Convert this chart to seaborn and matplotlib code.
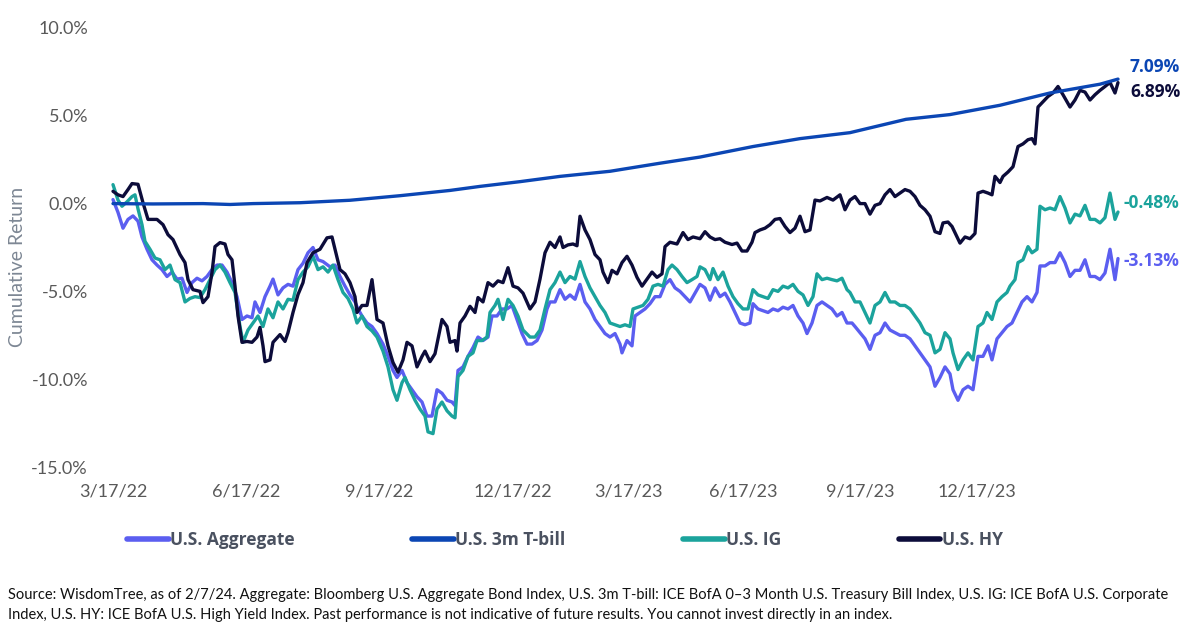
import matplotlib
matplotlib.use('Agg')
import matplotlib.pyplot as plt
import seaborn as sns
import pandas as pd

# (observation index, cumulative return %) ; index 0 = 3/17/22, 1005 = 2/7/24
agg_points = [
    (0, 0.23), (5, -0.5), (10, -1.4), (15, -0.9), (20, -0.7), (25, -1.0), (29, -1.9), (34, -2.6),
    (39, -3.2), (44, -3.5), (49, -3.76), (54, -4.15), (59, -3.9), (64, -4.3), (69, -4.25),
    (74, -5.06), (79, -4.5), (84, -4.25), (89, -4.4), (94, -4.15), (99, -3.76), (104, -3.5),
    (109, -3.5), (114, -3.9), (119, -4.5), (124, -5.3), (129, -6.6), (134, -6.4), (139, -6.5),
    (142, -5.6), (147, -6.2), (152, -5.3), (157, -4.7), (160, -4.3), (165, -5.2), (170, -4.8),
    (175, -4.6), (180, -4.7), (185, -3.76), (190, -3.4), (195, -2.8), (200, -2.5), (205, -3.2),
    (210, -3.3), (217, -3.6), (222, -3.5), (227, -4.15), (232, -4.7), (237, -5.2), (242, -5.6),
    (245, -6.0), (249, -6.4), (254, -6.8), (259, -7.0), (264, -7.4), (270, -8.0), (275, -8.7),
    (280, -9.5), (284, -9.9), (289, -9.5), (294, -10.2), (299, -10.6), (304, -11.0), (309, -11.3),
    (314, -12.1), (319, -12.1), (324, -10.6), (329, -10.8), (334, -11.2), (339, -11.3),
    (342, -11.5), (345, -9.5), (350, -9.3), (355, -8.7), (360, -8.2), (365, -7.6), (370, -7.8),
    (375, -7.6), (379, -6.4), (384, -6.4), (389, -6.0), (394, -6.0), (399, -5.8), (404, -6.6),
    (409, -7.4), (414, -8.0), (419, -8.0), (424, -7.8), (429, -7.2), (434, -6.0), (437, -5.6),
    (442, -5.6), (447, -4.9), (452, -5.45), (457, -5.2), (462, -5.45), (467, -4.6), (472, -5.6),
    (477, -6.0), (482, -6.6), (487, -7.0), (492, -7.4), (497, -7.6), (502, -7.4), (507, -8.0),
    (509, -8.5), (514, -7.8), (519, -8.1), (522, -6.4), (527, -6.2), (532, -6.0), (537, -5.7),
    (542, -5.3), (547, -5.3), (552, -4.6), (557, -4.33), (562, -4.8), (567, -5.0), (572, -5.3),
    (577, -5.6), (582, -5.1), (587, -4.6), (592, -4.8), (597, -5.5), (602, -4.8), (607, -5.3),
    (612, -5.1), (617, -5.6), (622, -6.2), (627, -6.8), (632, -6.9), (637, -6.8), (640, -5.7),
    (645, -6.0), (650, -6.1), (655, -6.2), (660, -6.0), (665, -6.1), (670, -5.9), (675, -6.0),
    (680, -5.8), (685, -6.4), (690, -6.8), (694, -7.4), (699, -6.8), (704, -5.8), (709, -5.6),
    (714, -5.8), (719, -6.0), (724, -6.4), (729, -6.2), (734, -6.8), (739, -6.8), (742, -7.0),
    (747, -7.35), (752, -7.7), (757, -8.3), (762, -7.5), (767, -7.35), (772, -6.8), (777, -7.2),
    (782, -7.35), (787, -7.5), (792, -7.5), (797, -7.7), (802, -8.1), (807, -8.5), (812, -8.9),
    (817, -9.3), (822, -10.4), (827, -9.9), (832, -9.3), (837, -9.7), (840, -10.6), (845, -11.2),
    (850, -10.6), (855, -10.4), (860, -10.6), (865, -8.7), (870, -8.7), (875, -8.1), (879, -8.9),
    (884, -7.7), (889, -7.35), (894, -7.0), (899, -6.8), (904, -6.2), (909, -5.6), (914, -5.3),
    (919, -5.6), (924, -5.06), (927, -3.55), (932, -3.55), (937, -3.36), (942, -3.36), (947, -2.8),
    (952, -3.36), (957, -4.15), (962, -3.8), (967, -3.8), (972, -3.2), (977, -4.15), (982, -4.15),
    (987, -4.33), (992, -3.95), (997, -2.6), (1002, -4.33), (1005, -3.13),
]

tbill_points = [
    (0, 0.0), (40, -0.02), (90, 0.0), (117, -0.05), (140, 0.0), (187, 0.05), (237, 0.19),
    (287, 0.45), (337, 0.75), (367, 0.98), (407, 1.25), (447, 1.55), (497, 1.84), (547, 2.3),
    (587, 2.65), (640, 3.25), (687, 3.7), (737, 4.04), (793, 4.8), (837, 5.07), (887, 5.6),
    (937, 6.3), (987, 6.8), (1005, 7.09),
]

ig_points = [
    (0, 1.08), (5, 0.2), (9, -0.15), (14, 0.1), (19, 0.4), (22, 0.5), (25, -0.3), (29, -1.2),
    (32, -2.15), (37, -2.6), (42, -3.1), (47, -3.2), (52, -3.76), (57, -3.5), (62, -4.33),
    (67, -4.5), (72, -5.6), (77, -5.4), (82, -5.3), (87, -5.35), (92, -4.9), (97, -4.33),
    (102, -3.76), (107, -3.5), (112, -3.9), (117, -4.5), (122, -5.06), (127, -7.0), (130, -7.9),
    (135, -7.2), (140, -6.8), (145, -6.4), (150, -7.0), (155, -6.0), (160, -6.5), (165, -5.6),
    (170, -6.0), (175, -5.45), (180, -5.5), (185, -4.33), (190, -3.9), (195, -3.6), (200, -3.0),
    (205, -3.76), (210, -3.6), (215, -3.9), (220, -3.5), (225, -4.33), (230, -5.06), (235, -5.4),
    (240, -6.0), (244, -6.8), (249, -6.4), (254, -7.0), (259, -7.25), (264, -7.6), (270, -8.4),
    (275, -9.3), (280, -10.6), (284, -11.2), (289, -10.2), (292, -9.9), (297, -10.6),
    (302, -11.2), (307, -11.7), (312, -12.1), (315, -13.0), (320, -13.1), (324, -11.7),
    (329, -11.3), (334, -11.8), (339, -12.1), (342, -12.2), (345, -9.85), (350, -9.5),
    (355, -8.7), (360, -8.5), (364, -7.8), (369, -7.8), (374, -7.6), (377, -6.2), (382, -5.8),
    (385, -5.45), (390, -6.6), (395, -5.45), (400, -5.8), (405, -6.4), (410, -7.2), (417, -7.6),
    (422, -7.6), (427, -7.2), (432, -6.0), (437, -4.9), (442, -4.5), (447, -3.9), (452, -4.5),
    (457, -4.15), (462, -4.3), (467, -3.3), (472, -4.15), (477, -4.8), (482, -5.3), (487, -5.8),
    (492, -6.2), (497, -6.8), (502, -6.9), (507, -7.0), (512, -6.9), (517, -7.0), (520, -6.0),
    (525, -5.9), (530, -5.8), (535, -5.45), (540, -4.7), (545, -4.6), (550, -4.7), (555, -3.76),
    (559, -3.5), (564, -3.76), (569, -4.15), (574, -4.5), (579, -4.33), (584, -4.15), (587, -3.6),
    (592, -3.76), (597, -4.33), (600, -3.7), (605, -4.33), (610, -3.9), (615, -4.7), (620, -5.3),
    (625, -5.7), (630, -6.0), (635, -6.0), (640, -4.9), (645, -5.2), (650, -5.3), (655, -5.4),
    (660, -4.9), (665, -5.0), (670, -4.7), (675, -4.8), (680, -4.6), (685, -5.0), (690, -5.2),
    (695, -5.8), (700, -5.3), (704, -4.0), (709, -4.33), (714, -4.25), (719, -4.33), (724, -4.4),
    (729, -4.25), (734, -4.9), (737, -5.06), (742, -5.6), (747, -5.6), (752, -6.2), (757, -6.8),
    (762, -5.8), (767, -5.6), (772, -5.06), (777, -5.6), (782, -5.6), (787, -5.8), (792, -5.8),
    (797, -6.0), (802, -6.4), (807, -6.8), (812, -7.35), (817, -7.5), (822, -8.5), (827, -8.3),
    (832, -7.35), (837, -7.7), (840, -8.5), (845, -9.45), (850, -8.9), (855, -8.5), (860, -8.9),
    (865, -7.0), (870, -6.8), (874, -6.2), (879, -6.6), (884, -5.6), (889, -5.3), (894, -5.06),
    (897, -4.7), (902, -4.33), (905, -3.36), (910, -3.2), (915, -2.45), (919, -2.8), (924, -2.6),
    (927, -0.15), (932, -0.35), (937, -0.25), (942, -0.35), (947, 0.4), (952, -0.25), (957, -1.1),
    (962, -0.6), (967, -0.7), (972, -0.1), (977, -0.9), (982, -0.9), (987, -1.1), (992, -0.8),
    (997, 0.6), (1002, -0.9), (1005, -0.48),
]

hy_points = [
    (0, 0.7), (5, 0.5), (10, 0.4), (15, 0.8), (19, 1.14), (25, 1.1), (30, 0.05), (35, -0.9),
    (44, -0.9), (50, -1.2), (55, -1.77), (60, -2.05), (67, -2.9), (72, -3.36), (75, -4.33),
    (80, -4.9), (87, -5.0), (90, -5.64), (95, -5.3), (99, -3.93), (102, -2.45), (107, -2.22),
    (112, -2.3), (115, -2.9), (119, -3.2), (122, -4.7), (125, -6.4), (129, -7.9), (134, -7.85),
    (139, -7.9), (144, -7.6), (147, -7.05), (150, -8.1), (152, -9.0), (157, -8.9), (160, -7.9),
    (167, -7.46), (172, -7.85), (175, -7.35), (180, -6.2), (185, -5.18), (190, -4.5), (194, -3.36),
    (200, -2.8), (207, -2.6), (214, -1.95), (219, -1.9), (222, -2.6), (227, -3.76), (232, -4.0),
    (237, -4.5), (242, -5.3), (244, -6.2), (249, -5.8), (254, -5.8), (259, -4.33), (264, -6.6),
    (270, -6.8), (275, -8.1), (280, -9.05), (285, -9.6), (290, -8.9), (294, -7.9), (299, -8.1),
    (304, -9.3), (309, -8.7), (312, -8.4), (317, -9.0), (322, -8.55), (329, -6.6), (334, -7.0),
    (337, -7.9), (342, -7.8), (344, -8.4), (347, -6.8), (352, -6.4), (357, -5.85), (362, -6.2),
    (365, -5.35), (370, -5.6), (375, -4.5), (380, -4.7), (385, -4.4), (390, -4.5), (395, -3.65),
    (400, -4.7), (405, -4.8), (410, -5.1), (417, -6.0), (422, -5.6), (427, -4.3), (432, -2.8),
    (437, -2.2), (442, -2.5), (447, -1.9), (450, -2.5), (455, -2.35), (460, -2.3), (464, -2.4),
    (467, -0.72), (472, -1.5), (477, -2.05), (482, -2.9), (487, -3.2), (490, -3.9), (495, -4.5),
    (499, -3.8), (504, -4.0), (509, -3.36), (514, -3.0), (519, -3.5), (524, -4.2), (529, -4.7),
    (534, -4.3), (539, -3.9), (544, -4.2), (549, -4.0), (552, -2.45), (557, -2.2), (564, -2.3),
    (570, -1.65), (575, -2.05), (580, -1.9), (587, -2.0), (592, -1.6), (597, -1.9), (602, -2.05),
    (607, -2.0), (612, -2.2), (619, -2.33), (624, -2.25), (629, -2.7), (634, -2.7), (639, -2.2),
    (642, -1.65), (647, -1.5), (652, -1.4), (657, -1.2), (662, -0.9), (667, -0.85), (672, -1.3),
    (677, -1.65), (682, -1.4), (687, -0.72), (692, -1.6), (697, -1.5), (702, 0.2), (707, 0.15),
    (714, 0.35), (720, 0.2), (727, 0.5), (732, -0.35), (737, 0.2), (742, 0.4), (747, 0.0),
    (752, 0.0), (757, -0.6), (762, -0.1), (767, 0.0), (772, 0.5), (777, 0.8), (782, 0.4),
    (787, 0.6), (792, 0.8), (797, 0.7), (802, 0.4), (807, -0.1), (812, -0.35), (817, -0.72),
    (822, -1.6), (827, -1.7), (830, -1.1), (835, -1.05), (839, -1.3), (844, -1.9), (847, -2.25),
    (852, -1.9), (857, -2.0), (862, -1.7), (865, 0.6), (870, 0.7), (875, 0.6), (879, 0.5),
    (882, 1.55), (887, 1.2), (890, 1.55), (895, 1.8), (900, 2.1), (905, 3.25), (910, 3.4),
    (915, 3.64), (919, 3.7), (922, 3.4), (925, 5.5), (930, 5.8), (935, 6.1), (940, 6.3),
    (945, 6.67), (950, 6.2), (957, 5.5), (962, 5.9), (967, 6.45), (972, 6.35), (977, 5.9),
    (982, 6.2), (987, 6.45), (992, 6.67), (997, 6.9), (1002, 6.3), (1005, 6.89),
]

tick_obs = [0, 133, 266, 400, 515, 630, 747, 864]
tick_labels = ['3/17/22', '6/17/22', '9/17/22', '12/17/22', '3/17/23', '6/17/23', '9/17/23', '12/17/23']
y_ticks = [-15, -10, -5, 0, 5, 10]

series = {
    'U.S. Aggregate': (agg_points, '#5b5ef0'),
    'U.S. 3m T-bill': (tbill_points, '#0b46b4'),
    'U.S. IG': (ig_points, '#1ba39c'),
    'U.S. HY': (hy_points, '#0c0c3a'),
}
draw_order = ['U.S. Aggregate', 'U.S. IG', 'U.S. HY', 'U.S. 3m T-bill']
legend_order = ['U.S. Aggregate', 'U.S. 3m T-bill', 'U.S. IG', 'U.S. HY']
# vertical offsets (points) for the end-of-line value labels
end_offsets = {'U.S. 3m T-bill': 9, 'U.S. HY': -6.5, 'U.S. IG': 6.5, 'U.S. Aggregate': -2}

sns.set_theme(style='white')
plt.rcParams['font.family'] = ['Lato', 'DejaVu Sans']
bold_font = ['Open Sans', 'DejaVu Sans']

fig = plt.figure(figsize=(12, 6.37), dpi=100)
ax = fig.add_axes([113 / 1200, 1 - 467 / 637, 1005 / 1200, 439 / 637])

handles = {}
for name in draw_order:
    points, color = series[name]
    df = pd.DataFrame(points, columns=['obs', 'ret'])
    sns.lineplot(data=df, x='obs', y='ret', color=color, linewidth=2.4, ax=ax, legend=False)
    line = ax.get_lines()[-1]
    line.set_clip_on(False)
    line.set_solid_joinstyle('round')
    handles[name] = line
    last_x, last = points[-1]
    dx = 8.6 if last >= 0 else 4.3
    ax.annotate(f'{last:.2f}%', xy=(last_x, last), xytext=(dx, end_offsets[name]),
                textcoords='offset points', ha='left', va='center', color=color,
                fontsize=12.5, fontweight='bold', family=bold_font)

ax.set_xlim(0, 1005)
ax.set_ylim(-15, 10)
ax.set_xticks(tick_obs)
ax.set_xticklabels(tick_labels)
ax.set_yticks(y_ticks)
ax.set_yticklabels([f'{v:.1f}%' for v in y_ticks])
ax.tick_params(axis='both', length=0, labelsize=13, labelcolor='#595959')
ax.tick_params(axis='y', pad=18)
ax.tick_params(axis='x', pad=12)
for s in ax.spines.values():
    s.set_visible(False)
ax.grid(False)
ax.set_xlabel('')
ax.set_ylabel('')
fig.text(18 / 1200, 1 - 267 / 637, 'Cumulative Return', rotation=90, ha='center', va='center',
         fontsize=14, color='#7d8794')

leg = fig.legend([handles[n] for n in legend_order], legend_order, loc='center', ncol=4,
                 bbox_to_anchor=(565 / 1200, 1 - 540 / 637), frameon=False,
                 handlelength=2.4, handletextpad=0.1, columnspacing=6.75,
                 prop={'size': 12.5, 'weight': 'bold', 'family': bold_font})
for t in leg.get_texts():
    t.set_color('#4a5160')
for l in leg.get_lines():
    l.set_linewidth(4)

note1 = ('Source: WisdomTree, as of 2/7/24. Aggregate: Bloomberg U.S. Aggregate Bond Index, '
         'U.S. 3m T-bill: ICE BofA 0\u20133 Month U.S. Treasury Bill Index, U.S. IG: ICE BofA U.S. Corporate')
note2 = ('Index, U.S. HY: ICE BofA U.S. High Yield Index. Past performance is not indicative of '
         'future results. You cannot invest directly in an index.')
fig.text(8 / 1200, 1 - 595 / 637, note1, ha='left', va='center', fontsize=10.5, color='#111111')
fig.text(8 / 1200, 1 - 615 / 637, note2, ha='left', va='center', fontsize=10.5, color='#111111')

fig.savefig('out.png', dpi=100)
